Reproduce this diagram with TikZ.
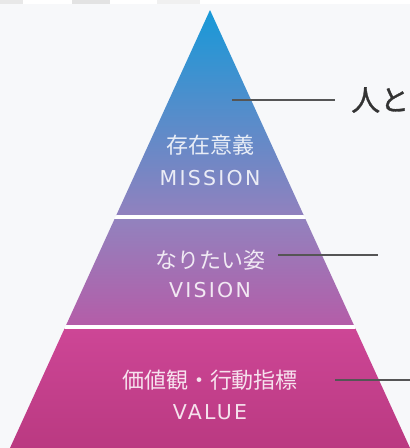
\documentclass[tikz,border=0pt]{standalone}
\usepackage{fontspec}
\newfontfamily\jpfont{Noto Sans CJK JP}
\newfontfamily\jpheavy[FakeBold=1]{Noto Sans CJK JP}
\newfontfamily\enfont[LetterSpace=11]{DejaVu Sans}
\usetikzlibrary{positioning}

\definecolor{bg}{HTML}{F7F8FA}
\definecolor{apexblue}{HTML}{1899D8}
\definecolor{misbot}{HTML}{9181BE}
\definecolor{vistop}{HTML}{9282BE}
\definecolor{visbot}{HTML}{B45DA8}
\definecolor{valtop}{HTML}{CD4696}
\definecolor{valbot}{HTML}{B8387F}
\definecolor{leadgray}{HTML}{555555}

\begin{document}
\begin{tikzpicture}[x=1pt,y=-1pt,
  tiertxt/.style={text=white,opacity=0.85,inner sep=0pt},
  jp/.style={font=\jpfont\fontsize{22}{22}\selectfont},
  en/.style={font=\enfont\fontsize{20.5}{20.5}\selectfont},
  lead/.style={draw=leadgray,line width=1.4pt}]
  \useasboundingbox (0,0) rectangle (410,448);
  \fill[bg] (0,0) rectangle (410,448);
  \fill[white] (0,0) rectangle (410,4);
  \fill[black!9] (0,0) rectangle (23,4);
  \fill[black!11] (72,0) rectangle (110,4);
  \fill[black!6] (157,0) rectangle (200,4);

  \coordinate (apex) at (210,10);
  \begin{scope}
    \path[clip] (apex) -- (415.5,460) -- (4.5,460) -- cycle;
    \foreach \ya/\yb/\ca/\cb in {10/215/apexblue/misbot,219/324.5/vistop/visbot,328.5/460/valtop/valbot} {
      \shade[top color=\ca,bottom color=\cb] (0,\ya) rectangle (410,\yb);
    }
    \fill[white] (0,215) rectangle (410,219);
    \fill[white] (0,324.5) rectangle (410,328.5);
  \end{scope}

  \node[tiertxt,jp] (misjp) at (210,145.5) {存在意義};
  \node[tiertxt,en] (misen) at (210,178.5) {MISSION};
  \node[tiertxt,jp] (visjp) at (210,260) {なりたい姿};
  \node[tiertxt,en] (visen) at (210,290.5) {VISION};
  \node[tiertxt,jp] (valjp) at (210,380) {価値観・行動指標};
  \node[tiertxt,en] (valen) at (210,412) {VALUE};

  \node[anchor=west,inner sep=0pt,text=black!80,font=\jpheavy\fontsize{29}{29}\selectfont] (mistext) at (351,100) {人と};
  \coordinate (l1) at (232,100);
  \coordinate (l2) at (278,255);
  \coordinate (l2e) at (378,255);
  \coordinate (l3) at (335,380);
  \coordinate (l3e) at (412,380);
  \draw[lead,shorten >=16pt] (l1) -- (mistext.west);
  \draw[lead] (l2) -- (l2e);
  \draw[lead] (l3) -- (l3e);
\end{tikzpicture}
\end{document}
